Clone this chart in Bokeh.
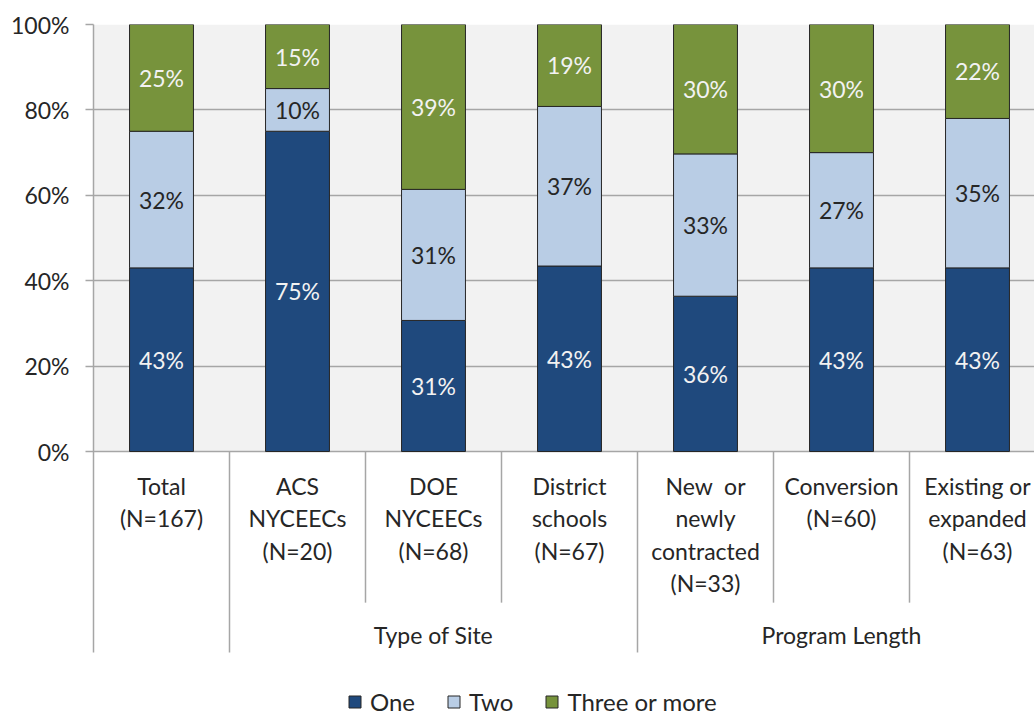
from bokeh.plotting import figure
from bokeh.models import Range1d, FixedTicker, PrintfTickFormatter, Legend, LegendItem, BoxAnnotation, ColumnDataSource
from bokeh.core.properties import value
from bokeh.embed import file_html
from bokeh.resources import INLINE

# ---- data ----
categories = ["Total\n(N=167)", "ACS\nNYCEECs\n(N=20)", "DOE\nNYCEECs\n(N=68)",
              "District\nschools\n(N=67)", "New  or\nnewly\ncontracted\n(N=33)",
              "Conversion\n(N=60)", "Existing or\nexpanded\n(N=63)"]
groups = ["Type of Site", "Program Length"]
group_members = [[1, 2, 3], [4, 5, 6]]
series = ["One", "Two", "Three or more"]
one = [43, 75, 31, 43, 36, 43, 43]
two = [32, 10, 31, 37, 33, 27, 35]
three = [25, 15, 39, 19, 30, 30, 22]
y_ticks = [0, 20, 40, 60, 80, 100]

# ---- style ----
FONT = "Lato"
colors = ["#1F497D", "#B9CDE5", "#77933C"]
label_colors = ["#F2F2F2", "#262626", "#F2F2F2"]
GRID = "#A6A6A6"
TEXT = "#262626"
FS = "23px"

W, H = 1034, 719
LEFT, TOP = 93, 24
cat_px = 136.0
px_per = 4.27                      # pixels per percentage point
frame_h = H - TOP
y_bottom = 100 - frame_h / px_per  # frame extends to bottom of canvas
y_sep_long = -47.07
y_sep_short = -35.4

p = figure(width=W, height=H, output_backend="svg", toolbar_location=None,
           x_range=Range1d(0, (W - LEFT) / cat_px), y_range=Range1d(y_bottom, 100),
           min_border_left=LEFT, min_border_right=0, min_border_top=TOP,
           min_border_bottom=0)
p.outline_line_color = None
p.background_fill_color = "white"
p.border_fill_color = "white"

p.add_layout(BoxAnnotation(bottom=0, top=100, fill_color="#F2F2F2", fill_alpha=1.0,
                           line_color=None, level="image"))

xs = [i + 0.5 for i in range(len(categories))]
totals = [a + b + c for a, b, c in zip(one, two, three)]
vals = [one, two, three]
shares = [[v / t * 100 for v, t in zip(s, totals)] for s in vals]

bottom = [0.0] * len(xs)
items = []
for k, name in enumerate(series):
    top = [b + s for b, s in zip(bottom, shares[k])]
    src = ColumnDataSource(dict(x=xs, bottom=bottom, top=top,
                                mid=[(b + t) / 2 for b, t in zip(bottom, top)],
                                lab=[f"{v}%" for v in vals[k]]))
    r = p.vbar(x="x", bottom="bottom", top="top", width=0.47, source=src,
               fill_color=colors[k], line_color="#262626", line_width=1)
    p.text(x="x", y="mid", text="lab", source=src, text_align="center",
           text_baseline="middle", text_color=label_colors[k],
           text_font=value(FONT), text_font_size=FS)
    items.append(LegendItem(label=name, renderers=[r]))
    bottom = top

# category labels (one text per line)
LH = 32.5
cx, cy, ct, coff = [], [], [], []
for x, cat in zip(xs, categories):
    for i, line in enumerate(cat.split("\n")):
        cx.append(x); cy.append(0); ct.append(line.replace("  ", "\u00a0 ")); coff.append(34 + i * LH)
p.text(x="x", y="y", text="t", y_offset="off",
       source=ColumnDataSource(dict(x=cx, y=cy, t=ct, off=coff)),
       text_align="center", text_baseline="middle", text_color=TEXT,
       text_font=value(FONT), text_font_size=FS)

# separators
bounds, ends = [], []
group_starts = [g[0] for g in group_members]
for b in range(1, len(categories)):
    bounds.append(b)
    ends.append(y_sep_long if b in group_starts else y_sep_short)
p.segment(x0=bounds, y0=[0] * len(bounds), x1=bounds, y1=ends, line_color=GRID, line_width=1.5)

# group labels
gx = [(g[0] + g[-1]) / 2 + 0.5 for g in group_members]
p.text(x=gx, y=[-42.9] * len(gx), text=groups, text_align="center", text_baseline="middle",
       text_color=TEXT, text_font=value(FONT), text_font_size=FS)

p.xaxis.visible = False
p.xgrid.visible = False
p.ygrid.ticker = FixedTicker(ticks=y_ticks)
p.ygrid.grid_line_color = GRID
p.ygrid.grid_line_width = 1.5

ya = p.yaxis[0]
ya.bounds = (y_sep_long, 100)
ya.ticker = FixedTicker(ticks=y_ticks)
ya.formatter = PrintfTickFormatter(format="%d%%")
ya.axis_line_color = GRID
ya.axis_line_width = 1.5
ya.major_tick_line_color = GRID
ya.major_tick_line_width = 1.5
ya.major_tick_out = 8
ya.major_tick_in = 0
ya.minor_tick_line_color = None
ya.major_label_standoff = 16
ya.major_label_text_font = FONT
ya.major_label_text_font_size = FS
ya.major_label_text_color = TEXT

legend = Legend(items=items, orientation="horizontal", location=(254, 3),
                border_line_color=None, background_fill_alpha=0,
                label_text_font=FONT, label_text_font_size="24px", label_text_color=TEXT,
                glyph_width=15, glyph_height=15, label_standoff=8, spacing=31,
                padding=0, margin=0)
p.add_layout(legend)

open("out.html", "w").write(file_html(p, INLINE))
